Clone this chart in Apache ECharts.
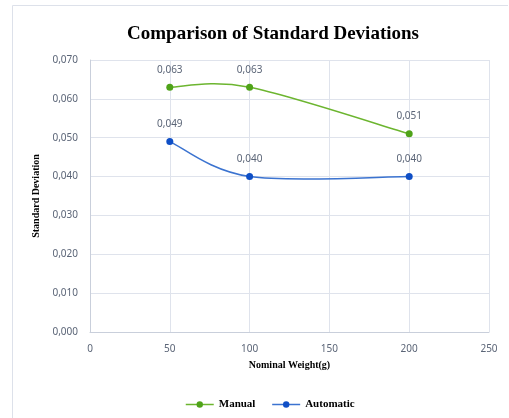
<!DOCTYPE html>
<html><head><meta charset="utf-8">
<script src="https://cdn.jsdelivr.net/npm/echarts@6/dist/echarts.min.js"></script>
<style>html,body{margin:0;padding:0;background:#fff}#c{width:509px;height:418px}</style>
</head><body><div id="c"></div>
<script>
const weights = [50, 100, 200];
const manual = [0.063, 0.063, 0.051];
const automatic = [0.049, 0.040, 0.040];
const seriesNames = ['Manual', 'Automatic'];
const fmt = v => v.toFixed(3).replace('.', ',');
const chart = echarts.init(document.getElementById('c'));
const lblColor = '#5b6577';
const greenLine = '#6cb52f', greenDot = '#4fa319';
const blueLine = '#3b73d0', blueDot = '#0f4fc6';

// Excel-style smoothed segment between consecutive data points, drawn via the axis scales
function curveRenderer(values, color) {
  return function (params, api) {
    const i = params.dataIndex;
    const n = weights.length;
    if (i >= n - 1) return null;
    const P = k => api.coord([weights[Math.max(0, Math.min(n - 1, k))], values[Math.max(0, Math.min(n - 1, k))]]);
    const p0 = P(i - 1), p1 = P(i), p2 = P(i + 1), p3 = P(i + 2);
    const c1 = [p1[0] + (p2[0] - p0[0]) / 6, p1[1] + (p2[1] - p0[1]) / 6];
    const c2 = [p2[0] - (p3[0] - p1[0]) / 6, p2[1] - (p3[1] - p1[1]) / 6];
    return {
      type: 'bezierCurve',
      shape: {x1: p1[0], y1: p1[1], cpx1: c1[0], cpy1: c1[1], cpx2: c2[0], cpy2: c2[1], x2: p2[0], y2: p2[1]},
      style: {stroke: color, lineWidth: 1.5, fill: null}
    };
  };
}

chart.setOption({
  animation: false,
  graphic: [
    {type: 'line', shape: {x1: 12.5, y1: 5.5, x2: 508, y2: 5.5}, style: {stroke: '#dde1ea', lineWidth: 1}},
    {type: 'line', shape: {x1: 12.5, y1: 5.5, x2: 12.5, y2: 418}, style: {stroke: '#dde1ea', lineWidth: 1}}
  ],
  title: {
    text: 'Comparison of Standard Deviations', left: 268, top: 20, textAlign: 'center',
    textStyle: {fontFamily: 'Liberation Serif', fontWeight: 'bold', fontSize: 19, color: '#000'}
  },
  legend: {
    data: [
      {name: seriesNames[0], lineStyle: {color: greenLine, width: 1.5, opacity: 1}},
      {name: seriesNames[1], lineStyle: {color: blueLine, width: 1.5, opacity: 1}}
    ],
    left: 180, top: 394, itemWidth: 28, itemHeight: 8, itemGap: 16,
    textStyle: {fontFamily: 'Liberation Serif', fontWeight: 'bold', fontSize: 11, color: '#000'}
  },
  grid: {left: 90, right: 20, top: 60, bottom: 86},
  xAxis: {
    type: 'value', min: 0, max: 250, interval: 50,
    name: 'Nominal Weight(g)', nameLocation: 'middle', nameGap: 28,
    nameTextStyle: {fontFamily: 'Liberation Serif', fontWeight: 'bold', fontSize: 10, color: '#000'},
    axisLine: {show: true, lineStyle: {color: '#c9cfdb'}},
    axisTick: {show: false},
    axisLabel: {fontFamily: 'Noto Sans', fontSize: 10, color: lblColor, margin: 12},
    splitLine: {show: true, lineStyle: {color: '#dfe3ec'}}
  },
  yAxis: {
    type: 'value', min: 0, max: 0.07, interval: 0.01,
    name: 'Standard Deviation', nameLocation: 'middle', nameGap: 40, nameRotate: 90,
    nameTextStyle: {fontFamily: 'Liberation Serif', fontWeight: 'bold', fontSize: 10, color: '#000'},
    axisLine: {show: true, lineStyle: {color: '#c9cfdb'}},
    axisTick: {show: false},
    axisLabel: {fontFamily: 'Noto Sans', fontSize: 10, color: lblColor, margin: 12, formatter: v => fmt(v)},
    splitLine: {show: true, lineStyle: {color: '#dfe3ec'}}
  },
  series: [
    {
      name: 'ManualCurve', type: 'custom', z: 1,
      data: weights.map((w, i) => [w, manual[i]]), encode: {x: 0, y: 1},
      renderItem: curveRenderer(manual, greenLine)
    },
    {
      name: 'AutomaticCurve', type: 'custom', z: 1,
      data: weights.map((w, i) => [w, automatic[i]]), encode: {x: 0, y: 1},
      renderItem: curveRenderer(automatic, blueLine)
    },
    {
      name: seriesNames[0], type: 'line', z: 3,
      data: weights.map((w, i) => [w, manual[i]]),
      symbol: 'circle', symbolSize: 7,
      itemStyle: {color: greenDot}, lineStyle: {color: greenLine, width: 1.5, opacity: 0},
      label: {show: true, position: 'top', distance: 9, fontFamily: 'Noto Sans', fontSize: 10, color: lblColor, formatter: p => fmt(p.value[1])}
    },
    {
      name: seriesNames[1], type: 'line', z: 3,
      data: weights.map((w, i) => [w, automatic[i]]),
      symbol: 'circle', symbolSize: 7,
      itemStyle: {color: blueDot}, lineStyle: {color: blueLine, width: 1.5, opacity: 0},
      label: {show: true, position: 'top', distance: 9, fontFamily: 'Noto Sans', fontSize: 10, color: lblColor, formatter: p => fmt(p.value[1])}
    }
  ]
});
</script></body></html>
